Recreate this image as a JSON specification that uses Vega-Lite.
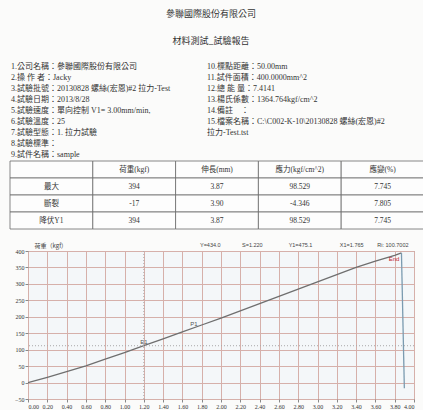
{
  "$schema": "https://vega.github.io/schema/vega-lite/v6.json",
  "padding": {"left": 9, "top": 10, "right": 0, "bottom": 0},
  "background": "#fbfbfa",
  "title": {
    "text": "參聯國際股份有限公司",
    "subtitle": "材料測試_試驗報告",
    "anchor": "middle",
    "font": "Noto Sans CJK TC",
    "subtitleFont": "Noto Sans CJK TC",
    "fontSize": 9,
    "subtitleFontSize": 9,
    "fontWeight": "normal",
    "subtitleFontWeight": "normal",
    "color": "#333333",
    "subtitleColor": "#333333",
    "subtitlePadding": 18,
    "offset": 13,
    "dx": -6
  },
  "spacing": 11,
  "datasets": {
    "info": [
      {"col": 0, "line": 1, "text": "1.公司名稱：參聯國際股份有限公司"},
      {"col": 0, "line": 2, "text": "2.操 作 者：Jacky"},
      {"col": 0, "line": 3, "text": "3.試驗批號：20130828 螺絲(宏恩)#2 拉力-Test"},
      {"col": 0, "line": 4, "text": "4.試驗日期：2013/8/28"},
      {"col": 0, "line": 5, "text": "5.試驗速度：單向控制 V1= 3.00mm/min,"},
      {"col": 0, "line": 6, "text": "6.試驗溫度：25"},
      {"col": 0, "line": 7, "text": "7.試驗型態：1. 拉力試驗"},
      {"col": 0, "line": 8, "text": "8.試驗標準："},
      {"col": 0, "line": 9, "text": "9.試件名稱：sample"},
      {"col": 1, "line": 1, "text": "10.標點距離：50.00mm"},
      {"col": 1, "line": 2, "text": "11.試件面積：400.0000mm^2"},
      {"col": 1, "line": 3, "text": "12.總 能 量：7.4141"},
      {"col": 1, "line": 4, "text": "13.楊氏係數：1364.764kgf/cm^2"},
      {"col": 1, "line": 5, "text": "14.備註　："},
      {"col": 1, "line": 6, "text": "15.檔案名稱：C:\\C002-K-10\\20130828 螺絲(宏恩)#2"},
      {"col": 1, "line": 7, "text": "拉力-Test.tst"}
    ],
    "table": [
      {"row": 0, "col": 0, "text": ""},
      {"row": 0, "col": 1, "text": "荷重(kgf)"},
      {"row": 0, "col": 2, "text": "伸長(mm)"},
      {"row": 0, "col": 3, "text": "應力(kgf/cm^2)"},
      {"row": 0, "col": 4, "text": "應變(%)"},
      {"row": 1, "col": 0, "text": "最大"},
      {"row": 1, "col": 1, "text": "394"},
      {"row": 1, "col": 2, "text": "3.87"},
      {"row": 1, "col": 3, "text": "98.529"},
      {"row": 1, "col": 4, "text": "7.745"},
      {"row": 2, "col": 0, "text": "斷裂"},
      {"row": 2, "col": 1, "text": "-17"},
      {"row": 2, "col": 2, "text": "3.90"},
      {"row": 2, "col": 3, "text": "-4.346"},
      {"row": 2, "col": 4, "text": "7.805"},
      {"row": 3, "col": 0, "text": "降伏Y1"},
      {"row": 3, "col": 1, "text": "394"},
      {"row": 3, "col": 2, "text": "3.87"},
      {"row": 3, "col": 3, "text": "98.529"},
      {"row": 3, "col": 4, "text": "7.745"}
    ],
    "curve": [
      {"elong": 0.00, "load": 0, "seg": "test"},
      {"elong": 0.20, "load": 16, "seg": "test"},
      {"elong": 0.40, "load": 33, "seg": "test"},
      {"elong": 0.60, "load": 51, "seg": "test"},
      {"elong": 0.80, "load": 71, "seg": "test"},
      {"elong": 1.00, "load": 91, "seg": "test"},
      {"elong": 1.20, "load": 112, "seg": "test"},
      {"elong": 1.40, "load": 133, "seg": "test"},
      {"elong": 1.60, "load": 154, "seg": "test"},
      {"elong": 1.80, "load": 175, "seg": "test"},
      {"elong": 2.00, "load": 196, "seg": "test"},
      {"elong": 2.20, "load": 218, "seg": "test"},
      {"elong": 2.40, "load": 240, "seg": "test"},
      {"elong": 2.60, "load": 262, "seg": "test"},
      {"elong": 2.80, "load": 284, "seg": "test"},
      {"elong": 3.00, "load": 306, "seg": "test"},
      {"elong": 3.20, "load": 328, "seg": "test"},
      {"elong": 3.40, "load": 350, "seg": "test"},
      {"elong": 3.60, "load": 369, "seg": "test"},
      {"elong": 3.80, "load": 387, "seg": "test"},
      {"elong": 3.87, "load": 394, "seg": "test"},
      {"elong": 3.87, "load": 394, "seg": "break"},
      {"elong": 3.90, "load": -17, "seg": "break"}
    ],
    "points": [
      {"label": "E1", "elong": 1.20, "load": 112},
      {"label": "P1", "elong": 1.72, "load": 166},
      {"label": "End", "elong": 3.87, "load": 394}
    ]
  },
  "vconcat": [
    {
      "width": 386,
      "height": 170,
      "view": {"stroke": null},
      "resolve": {"scale": {"x": "independent", "y": "independent"}},
      "layer": [
        {
          "data": {"name": "info"},
          "mark": {"type": "text", "align": "left", "baseline": "middle", "fontSize": 8, "font": "Liberation Serif, Noto Sans CJK TC", "color": "#333333"},
          "encoding": {
            "x": {"field": "col", "type": "quantitative", "scale": {"domain": [0.0867, 2.056], "nice": false, "zero": false}, "axis": null},
            "y": {"field": "line", "type": "quantitative", "scale": {"domain": [0.318, 15.77], "nice": false, "zero": false, "reverse": true}, "axis": null},
            "text": {"field": "text"}
          }
        },
        {
          "data": {"name": "table"},
          "mark": {"type": "rect", "fill": "#fdfdfd", "stroke": "#6a6a6a", "strokeWidth": 0.8},
          "encoding": {
            "x": {"field": "col", "type": "ordinal", "scale": {"range": [-18, 396], "paddingInner": 0, "paddingOuter": 0}, "axis": null},
            "y": {"field": "row", "type": "ordinal", "scale": {"range": [102, 170], "paddingInner": 0, "paddingOuter": 0}, "axis": null}
          }
        },
        {
          "data": {"name": "table"},
          "mark": {"type": "text", "align": "center", "baseline": "middle", "fontSize": 7.5, "font": "Liberation Serif, Noto Sans CJK TC", "color": "#333333"},
          "encoding": {
            "x": {"field": "col", "type": "ordinal", "scale": {"range": [-18, 396], "paddingInner": 0, "paddingOuter": 0}, "axis": null},
            "y": {"field": "row", "type": "ordinal", "scale": {"range": [102, 170], "paddingInner": 0, "paddingOuter": 0}, "axis": null},
            "text": {"field": "text"}
          }
        }
      ]
    },
    {
      "width": 386,
      "height": 148,
      "title": {
        "text": "Y=434.0\u00a0\u00a0\u00a0\u00a0\u00a0\u00a0\u00a0\u00a0\u00a0\u00a0\u00a0\u00a0\u00a0\u00a0S=1.220\u00a0\u00a0\u00a0\u00a0\u00a0\u00a0\u00a0\u00a0\u00a0\u00a0\u00a0\u00a0\u00a0\u00a0\u00a0\u00a0\u00a0Y1=475.1\u00a0\u00a0\u00a0\u00a0\u00a0\u00a0\u00a0\u00a0\u00a0\u00a0\u00a0\u00a0\u00a0\u00a0\u00a0\u00a0\u00a0\u00a0X1=1.765\u00a0\u00a0\u00a0\u00a0\u00a0\u00a0\u00a0\u00a0\u00a0Ri: 100.7002",
        "anchor": "end",
        "fontSize": 5.5,
        "fontWeight": "normal",
        "font": "Liberation Sans",
        "color": "#444444",
        "offset": 3,
        "dx": -6,
        "dy": 9
      },
      "view": {"stroke": "#8c8c8c", "strokeWidth": 1, "fill": "#f4f7f9"},
      "layer": [
        {
          "data": {"name": "curve"},
          "mark": {"type": "line", "strokeWidth": 1.3},
          "encoding": {
            "x": {
              "field": "elong", "type": "quantitative",
              "scale": {"domain": [0, 4], "nice": false, "zero": false},
              "axis": {
                "values": [0, 0.2, 0.4, 0.6, 0.8, 1.0, 1.2, 1.4, 1.6, 1.8, 2.0, 2.2, 2.4, 2.6, 2.8, 3.0, 3.2, 3.4, 3.6, 3.8, 4.0],
                "tickCount": 30,
                "format": ".2f",
                "title": null,
                "labelFontSize": 6,
                "labelFont": "Liberation Serif",
                "labelColor": "#333333",
                "labelPadding": 1,
                "tickSize": 3,
                "tickColor": "#888888",
                "domain": false,
                "grid": true,
                "gridColor": "#d6b0aa",
                "gridWidth": 1,
                "labelOverlap": false
              }
            },
            "y": {
              "field": "load", "type": "quantitative",
              "scale": {"domain": [-50, 400], "nice": false, "zero": false},
              "axis": {
                "values": [-50, 0, 50, 100, 150, 200, 250, 300, 350, 400],
                "tickCount": 15,
                "title": "荷重（kgf）",
                "titleAngle": 0,
                "titleAlign": "left",
                "titleBaseline": "bottom",
                "titleX": 6,
                "titleY": -3,
                "titleFontSize": 6,
                "titleFontWeight": "normal",
                "titleFont": "Noto Sans CJK TC",
                "titleColor": "#444444",
                "labelFontSize": 6,
                "labelFont": "Liberation Serif",
                "labelColor": "#333333",
                "labelPadding": 1,
                "tickSize": 3,
                "tickColor": "#888888",
                "domain": false,
                "grid": true,
                "gridColor": "#d6b0aa",
                "gridWidth": 1,
                "labelOverlap": false
              }
            },
            "color": {
              "field": "seg", "type": "nominal",
              "scale": {"domain": ["test", "break"], "range": ["#6f6f6f", "#7b9bb0"]},
              "legend": null
            }
          }
        },
        {
          "data": {"name": "points"},
          "transform": [{"filter": "datum.label === 'E1'"}],
          "mark": {"type": "rule", "color": "#a8a8a8", "strokeDash": [1, 2], "strokeWidth": 1},
          "encoding": {
            "x": {"field": "elong", "type": "quantitative"}
          }
        },
        {
          "data": {"name": "points"},
          "transform": [{"filter": "datum.label === 'E1'"}],
          "mark": {"type": "rule", "color": "#a8a8a8", "strokeDash": [1, 2], "strokeWidth": 1},
          "encoding": {
            "y": {"field": "load", "type": "quantitative"}
          }
        },
        {
          "data": {"name": "points"},
          "transform": [{"filter": "datum.label !== 'End'"}],
          "mark": {"type": "text", "fontSize": 6, "font": "Liberation Sans", "color": "#555555", "align": "center", "baseline": "bottom", "dy": -1},
          "encoding": {
            "x": {"field": "elong", "type": "quantitative"},
            "y": {"field": "load", "type": "quantitative"},
            "text": {"field": "label"}
          }
        },
        {
          "data": {"name": "points"},
          "transform": [{"filter": "datum.label === 'End'"}],
          "mark": {"type": "text", "fontSize": 6, "font": "Liberation Sans", "color": "#c0272d", "align": "right", "baseline": "top", "dx": -2, "dy": 3},
          "encoding": {
            "x": {"field": "elong", "type": "quantitative"},
            "y": {"field": "load", "type": "quantitative"},
            "text": {"field": "label"}
          }
        }
      ]
    }
  ]
}
